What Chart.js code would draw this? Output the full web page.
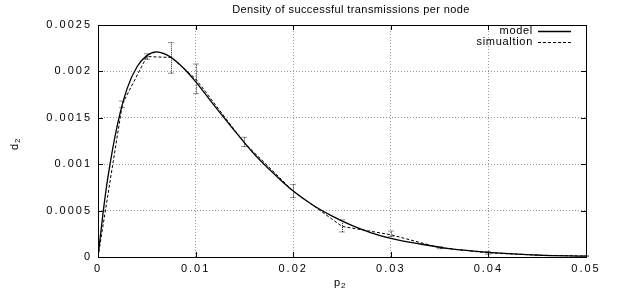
<!DOCTYPE html>
<html>
<head>
<meta charset="utf-8">
<script src="https://cdn.jsdelivr.net/npm/chart.js@4/dist/chart.umd.min.js"></script>
<style>
  html, body { margin: 0; padding: 0; background: #fff; }
  #wrap { width: 621px; height: 293px; }
</style>
</head>
<body>
<div id="wrap"><canvas id="chart" width="621" height="293"></canvas></div>
<script>
// values
const modelP = [0, 0.0005, 0.001, 0.002, 0.003, 0.004, 0.005, 0.006, 0.007, 0.008, 0.009, 0.010,
                0.012, 0.014, 0.016, 0.018, 0.020, 0.022, 0.024, 0.026, 0.028, 0.030,
                0.033, 0.036, 0.040, 0.045, 0.050];
const modelD = [0, 0.00046, 0.00085, 0.00143, 0.00182, 0.00205, 0.00217, 0.00221, 0.00218, 0.00211, 0.00201, 0.00189,
                0.00162, 0.00136, 0.00111, 0.00090, 0.00071, 0.00056, 0.00044, 0.00034, 0.00026, 0.00020,
                0.00014, 0.00009, 0.00005, 0.00002, 0.00001];

const simP    = [0, 0.0025, 0.005, 0.0075, 0.01, 0.015, 0.02, 0.025, 0.03, 0.035, 0.04, 0.045, 0.05];
const simD    = [0, 0.00165, 0.00216, 0.00215, 0.00192, 0.00123, 0.00071, 0.00033, 0.00024, 0.00010, 0.000045, 0.00002, 0.00001];
const simLow  = [0, 0.00161, 0.00213, 0.00198, 0.00176, 0.00119, 0.00064, 0.00027, 0.00022, 0.00009, 0.00003, 0.000015, 0.000005];
const simHigh = [0, 0.00168, 0.00219, 0.00231, 0.00208, 0.00129, 0.00078, 0.00040, 0.00028, 0.00011, 0.00006, 0.000025, 0.000015];

const xTicks = [0, 0.01, 0.02, 0.03, 0.04, 0.05];
const xTickLabels = ["0", "0.01", "0.02", "0.03", "0.04", "0.05"];
const yTicks = [0, 0.0005, 0.001, 0.0015, 0.002, 0.0025];
const yTickLabels = ["0", "0.0005", "0.001", "0.0015", "0.002", "0.0025"];

const chartTitle = "Density of successful transmissions per node";
const FONT = "Liberation Sans, Arial, Helvetica, sans-serif";

// gridlines only on inner ticks, dotted grey
function gridColor(ctx, max) {
    const v = ctx.tick ? ctx.tick.value : null;
    return (v === 0 || v === max) ? "rgba(0,0,0,0)" : "#9a9a9a";
}

// the tick labels of the original are spaced out wide
const wideTicks = {
    id: "wideTicks",
    beforeDraw(chart) { chart.ctx.letterSpacing = "2px"; }
};

// title, axis labels, box, inner ticks, error bars and the legend
const gnuplotLook = {
    id: "gnuplotLook",
    afterDatasetsDraw(chart) {
        const ctx = chart.ctx;
        const a = chart.chartArea;
        const xs = chart.scales.x, ys = chart.scales.y;
        ctx.save();
        ctx.letterSpacing = "0px";

        // error bars of the simulation
        ctx.strokeStyle = "#222";
        ctx.lineWidth = 1;
        ctx.setLineDash([1, 1]);
        simP.forEach((p, i) => {
            const x = Math.round(xs.getPixelForValue(p)) + 0.5;
            const y1 = ys.getPixelForValue(simLow[i]);
            const y2 = ys.getPixelForValue(simHigh[i]);
            if (Math.abs(y1 - y2) < 0.5) return;
            ctx.beginPath();
            ctx.moveTo(x, y1); ctx.lineTo(x, y2);
            ctx.moveTo(x - 3, y1); ctx.lineTo(x + 3, y1);
            ctx.moveTo(x - 3, y2); ctx.lineTo(x + 3, y2);
            ctx.stroke();
        });
        ctx.setLineDash([]);

        // frame
        ctx.strokeStyle = "#000";
        ctx.lineWidth = 1;
        ctx.strokeRect(Math.round(a.left) + 0.5, Math.round(a.top) + 0.5,
                       Math.round(a.right - a.left), Math.round(a.bottom - a.top));

        // inner tick marks on all four sides
        ctx.beginPath();
        xTicks.forEach(v => {
            const x = Math.round(xs.getPixelForValue(v)) + 0.5;
            ctx.moveTo(x, a.bottom); ctx.lineTo(x, a.bottom - 5);
            ctx.moveTo(x, a.top); ctx.lineTo(x, a.top + 5);
        });
        yTicks.forEach(v => {
            const y = Math.round(ys.getPixelForValue(v)) + 0.5;
            ctx.moveTo(a.left, y); ctx.lineTo(a.left + 5, y);
            ctx.moveTo(a.right, y); ctx.lineTo(a.right - 5, y);
        });
        ctx.stroke();

        // title
        ctx.fillStyle = "#000";
        ctx.font = "11px " + FONT;
        ctx.letterSpacing = "0.4px";
        ctx.textAlign = "center";
        ctx.textBaseline = "middle";
        ctx.fillText(chartTitle, 351, 10);

        // x axis label p2
        ctx.letterSpacing = "0px";
        ctx.font = "11px " + FONT;
        ctx.textAlign = "left";
        ctx.fillText("p", 334, 283);
        ctx.font = "8px " + FONT;
        ctx.fillText("2", 341, 286);

        // y axis label d2
        ctx.save();
        ctx.translate(15, 144);
        ctx.rotate(-Math.PI / 2);
        ctx.font = "11px " + FONT;
        ctx.textAlign = "left";
        ctx.fillText("d", -6, 0);
        ctx.font = "8px " + FONT;
        ctx.fillText("2", 1, 3);
        ctx.restore();

        // legend, text right aligned then a line sample
        ctx.font = "11px " + FONT;
        ctx.letterSpacing = "0.7px";
        ctx.textAlign = "right";
        const rows = [31, 42];
        chart.data.datasets.forEach((ds, i) => {
            const y = rows[i];
            ctx.fillStyle = "#000";
            ctx.fillText(ds.label, 533, y);
            ctx.strokeStyle = "#000";
            ctx.lineWidth = ds.borderWidth;
            ctx.setLineDash(ds.borderDash || []);
            ctx.beginPath();
            ctx.moveTo(538, y + 0.5); ctx.lineTo(571, y + 0.5);
            ctx.stroke();
        });
        ctx.restore();
    }
};

new Chart(document.getElementById("chart"), {
    type: "line",
    data: {
        datasets: [
            {
                label: "model",
                data: modelP.map((p, i) => ({ x: p, y: modelD[i] })),
                borderColor: "#000",
                borderWidth: 1.3,
                pointRadius: 0,
                cubicInterpolationMode: "monotone",
                fill: false
            },
            {
                label: "simualtion",
                data: simP.map((p, i) => ({ x: p, y: simD[i] })),
                borderColor: "#000",
                borderWidth: 1,
                borderDash: [3, 2],
                pointRadius: 0,
                tension: 0,
                fill: false
            }
        ]
    },
    options: {
        responsive: false,
        animation: false,
        events: [],
        layout: { padding: { top: 25, right: 35, left: 0, bottom: 0 } },
        plugins: {
            legend: { display: false },
            title: { display: false },
            tooltip: { enabled: false }
        },
        scales: {
            x: {
                type: "linear",
                min: 0,
                max: 0.05,
                afterBuildTicks: s => { s.ticks = xTicks.map(v => ({ value: v })); },
                afterFit: s => { s.height = 36; },
                ticks: {
                    callback: (v, i) => xTickLabels[i],
                    color: "#000",
                    font: { family: FONT, size: 11 },
                    padding: 5,
                    maxRotation: 0
                },
                grid: {
                    color: c => gridColor(c, 0.05),
                    drawTicks: false,
                    lineWidth: 1
                },
                border: { display: false, dash: [1, 2] }
            },
            y: {
                type: "linear",
                min: 0,
                max: 0.0025,
                afterBuildTicks: s => { s.ticks = yTicks.map(v => ({ value: v })); },
                afterFit: s => { s.width = 98; },
                ticks: {
                    callback: (v, i) => yTickLabels[i],
                    color: "#000",
                    font: { family: FONT, size: 11 },
                    padding: 6
                },
                grid: {
                    color: c => gridColor(c, 0.0025),
                    drawTicks: false,
                    lineWidth: 1
                },
                border: { display: false, dash: [1, 2] }
            }
        }
    },
    plugins: [wideTicks, gnuplotLook]
});
</script>
</body>
</html>
